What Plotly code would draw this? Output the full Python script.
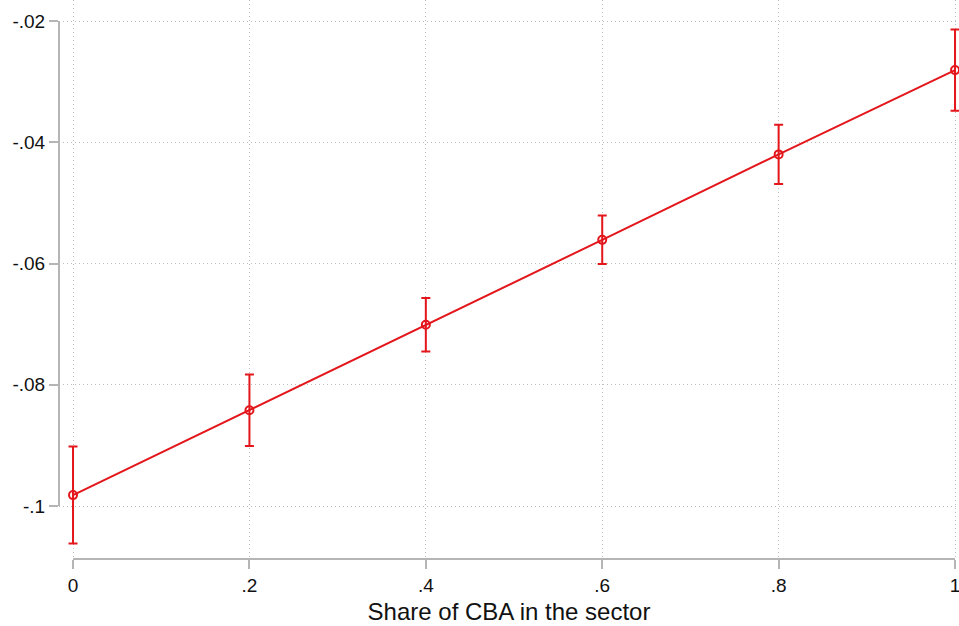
import plotly.graph_objects as go

# Marginal effect by share of collective bargaining coverage
share = [0.0, 0.2, 0.4, 0.6, 0.8, 1.0]
effect = [-0.0982, -0.0842, -0.0701, -0.0561, -0.0420, -0.0281]
ci_half = [0.0080, 0.0059, 0.0044, 0.0040, 0.0049, 0.0067]

x_ticks = [0, 0.2, 0.4, 0.6, 0.8, 1]
x_labels = ["0", ".2", ".4", ".6", ".8", "1"]
y_ticks = [-0.1, -0.08, -0.06, -0.04, -0.02]
y_labels = ["-.1", "-.08", "-.06", "-.04", "-.02"]

RED = "#e3161b"
AXIS = "#b5b5b5"
GRID = "#bdbdbd"
FONT = "Liberation Sans, Arial, sans-serif"

fig = go.Figure()
fig.add_trace(go.Scatter(
    x=share, y=effect,
    mode="lines+markers",
    line=dict(color=RED, width=2),
    marker=dict(symbol="circle-open", size=8, color=RED, line=dict(color=RED, width=2)),
    error_y=dict(type="data", array=ci_half, visible=True,
                 color=RED, thickness=2, width=4.5),
    cliponaxis=False,
    showlegend=False,
))

# Stata-style axis lines spanning only the labelled range
fig.add_shape(type="line", xref="paper", yref="y", x0=0, x1=0,
              y0=y_ticks[0], y1=y_ticks[-1], line=dict(color=AXIS, width=2))
fig.add_shape(type="line", xref="x", yref="paper", x0=x_ticks[0], x1=x_ticks[-1],
              y0=0, y1=0, line=dict(color=AXIS, width=2))

fig.update_xaxes(
    range=[-0.0159, 1.0045],
    tickvals=x_ticks, ticktext=x_labels,
    ticks="outside", ticklen=9, tickwidth=2, tickcolor=AXIS,
    ticklabeloverflow="allow",
    showline=False, zeroline=False,
    showgrid=True, gridcolor=GRID, gridwidth=1, griddash="1px,3px",
    tickfont=dict(family=FONT, size=19, color="#111111"),
    title=dict(text="Share of CBA in the sector",
               font=dict(family=FONT, size=24, color="#111111"), standoff=8),
)
fig.update_yaxes(
    range=[-0.108742, -0.016536],
    tickvals=y_ticks, ticktext=y_labels,
    ticks="outside", ticklen=9, tickwidth=2, tickcolor=AXIS,
    showline=False, zeroline=False,
    showgrid=True, gridcolor=GRID, gridwidth=1, griddash="1px,3px",
    tickfont=dict(family=FONT, size=19, color="#111111"),
)
fig.update_layout(
    width=959, height=626,
    margin=dict(l=59, r=0, t=0, b=67),
    paper_bgcolor="white", plot_bgcolor="white",
)

fig.write_html("out.html")
